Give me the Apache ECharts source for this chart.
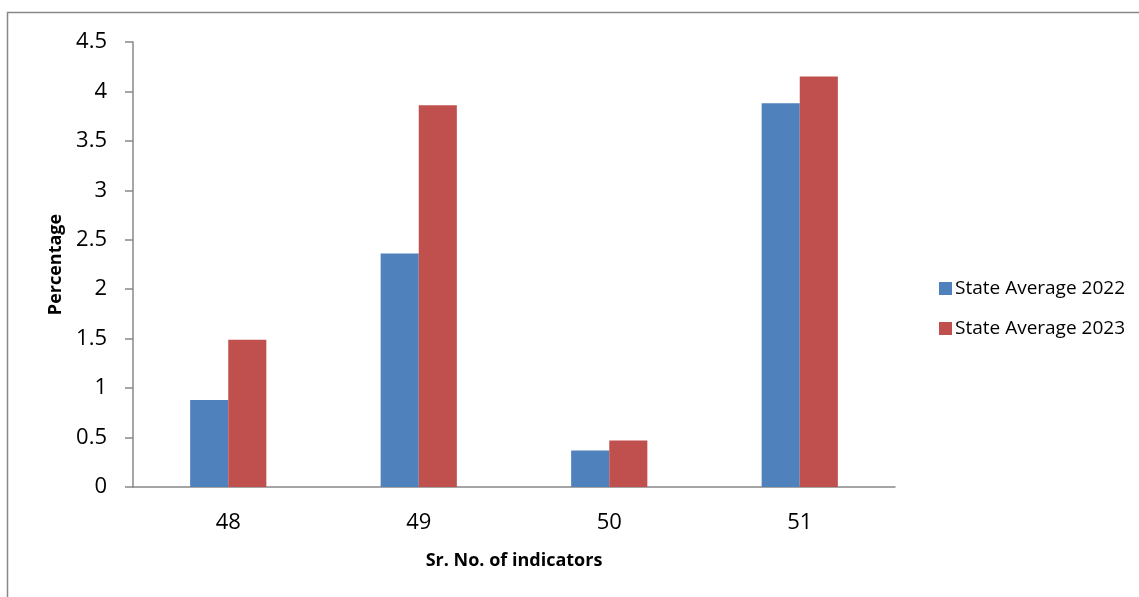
<!DOCTYPE html>
<html><head><meta charset="utf-8">
<script src="https://cdn.jsdelivr.net/npm/echarts@6/dist/echarts.min.js"></script>
<style>html,body{margin:0;padding:0;background:#fff}#c{width:1139px;height:597px}</style>
</head><body><div id="c"></div>
<script>
const categories = ['48', '49', '50', '51'];
const avg2022 = [0.88, 2.36, 0.37, 3.88];
const avg2023 = [1.49, 3.86, 0.47, 4.15];
const seriesNames = ['State Average 2022', 'State Average 2023'];
const yTicks = [0, 0.5, 1, 1.5, 2, 2.5, 3, 3.5, 4, 4.5];

const chart = echarts.init(document.getElementById('c'), null, {renderer: 'canvas'});
const font = '"Open Sans", sans-serif';
chart.setOption({
  animation: false,
  graphic: [{type: 'rect', shape: {x: 7.5, y: 12.5, width: 1200, height: 700}, style: {fill: 'none', stroke: '#888', lineWidth: 1.5}}],
  grid: {left: 133, right: 1139 - 895, top: 42, bottom: 110, containLabel: false},
  legend: {
    orient: 'vertical', left: 934, top: 274, itemGap: 21, itemWidth: 13, itemHeight: 13,
    icon: 'rect', data: seriesNames,
    textStyle: {fontFamily: font, fontSize: 19, color: '#000', padding: [0, 0, 0, -2]}
  },
  xAxis: {
    type: 'category', data: categories,
    name: 'Sr. No. of indicators', nameLocation: 'middle', nameGap: 65,
    nameTextStyle: {fontFamily: font, fontSize: 18, fontWeight: 'bold', color: '#000'},
    axisLine: {lineStyle: {color: '#888', width: 1.5}},
    axisTick: {show: false},
    axisLabel: {fontFamily: font, fontSize: 22, color: '#000', margin: 25}
  },
  yAxis: {
    type: 'value', min: 0, max: 4.5, interval: 0.5,
    name: 'Percentage', nameLocation: 'middle', nameGap: 68, nameRotate: 90,
    nameTextStyle: {fontFamily: font, fontSize: 18, fontWeight: 'bold', color: '#000'},
    axisLine: {show: true, lineStyle: {color: '#888', width: 1.5}},
    axisTick: {show: true, length: 8, lineStyle: {color: '#888', width: 1.5}},
    splitLine: {show: false},
    axisLabel: {fontFamily: font, fontSize: 22, color: '#000', margin: 26,
      formatter: v => (yTicks.includes(v) ? String(v) : '')}
  },
  series: [
    {name: seriesNames[0], type: 'bar', data: avg2022, barGap: '0%', barCategoryGap: '60%', itemStyle: {color: '#4F81BD'}},
    {name: seriesNames[1], type: 'bar', data: avg2023, barGap: '0%', barCategoryGap: '60%', itemStyle: {color: '#C0504D'}}
  ]
});
</script></body></html>
